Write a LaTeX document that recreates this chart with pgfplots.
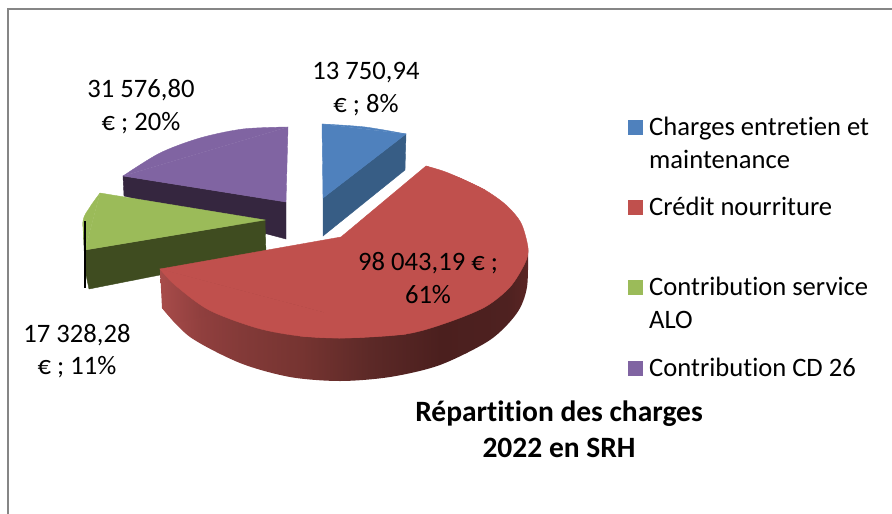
\documentclass[border=0pt]{standalone}
\usepackage{fontspec}
\setmainfont[Ligatures=NoCommon]{Carlito}
\usepackage{pgfplots}
\pgfplotsset{compat=1.18}
\definecolor{cblue}{HTML}{4F81BD}
\definecolor{cred}{HTML}{C0504D}
\definecolor{cgreen}{HTML}{9BBB59}
\definecolor{cpurple}{HTML}{8064A2}
\definecolor{dblue}{HTML}{375D85}
\definecolor{dgreen}{HTML}{3F4C20}
\definecolor{dpurple}{HTML}{35263F}
\definecolor{framegray}{HTML}{868686}
\definecolor{ra}{HTML}{A84C4A}
\definecolor{rb}{HTML}{903F3E}
\definecolor{rc}{HTML}{833A38}
\definecolor{rd}{HTML}{763431}
\definecolor{re}{HTML}{5C2927}
\definecolor{rf}{HTML}{4B1F1E}
\definecolor{rg}{HTML}{4E2120}
\definecolor{rh}{HTML}{5A2524}
% red side wall, left to right (25bp..75bp is the width of the path)
\pgfdeclarehorizontalshading{redside}{100bp}{
  color(0bp)=(ra); color(25bp)=(ra);
  color(30.4bp)=(rb); color(35.9bp)=(rc);
  color(44bp)=(rd); color(53.5bp)=(re);
  color(63bp)=(rf); color(72bp)=(rg);
  color(75bp)=(rh); color(100bp)=(rh)}
\newcommand{\lab}[3]{\node[anchor=base,inner sep=0pt] at (axis cs:#1,#2) {#3};}
\newcommand{\leg}[2]{\node[anchor=base west,inner sep=0pt] at (axis cs:649,#1) {#2};}
\begin{document}
\begin{tikzpicture}
\useasboundingbox (0,0) rectangle (892pt,514pt);
\begin{axis}[
  at={(0,0)}, anchor=south west,
  scale only axis, width=892pt, height=514pt,
  xmin=0, xmax=892, ymin=0, ymax=514, y dir=reverse,
  hide axis, clip=false,
  nodes={font=\fontsize{26.6}{30}\selectfont},
  piece/.style={fill=#1,draw=#1,line width=0.4pt}
]
% frame
\addplot[draw=framegray,line width=2pt] coordinates {(8,514)(8,8.5)(892,8.5)};
% purple slice
\addplot[piece=dpurple] coordinates {(123,176)(124,196)(286,239)(286,202)} --cycle;
\addplot[piece=cpurple,smooth] coordinates {(288,127)(243,129)(200,138)(160,153)(123,176)};
\addplot[piece=cpurple] coordinates {(288,127)(286,202)(123,176)} --cycle;
% green slice
\addplot[piece=dgreen] coordinates {(83,222)(85,250)(265,220)(266,254)(89,289)(85,270)} --cycle;
\addplot[piece=cgreen,smooth] coordinates {(100,193)(90,207)(83,221)(85,250)};
\addplot[piece=cgreen] coordinates {(100,193)(265,220)(85,250)} --cycle;
% blue slice
\addplot[piece=dblue] coordinates {(406,134)(405,170)(323,236)(323,198)} --cycle;
\addplot[piece=cblue,smooth] coordinates {(322,124)(365,127)(406,134)};
\addplot[piece=cblue] coordinates {(322,124)(406,134)(323,198)} --cycle;
% red slice, side wall then top (arc pieces overlap to hide their ends)
\addplot[shading=redside,draw=none,smooth] coordinates {(162,308)(190,337)(240,363)(290,377)(340,381)(390,377)(440,365)(490,340)(517,313)(527,287)(528,248)};
\addplot[shading=redside,draw=none] coordinates {(160,269)(162,308)(175,323)(528,248)} --cycle;
\addplot[piece=cred,smooth] coordinates {(160,269)(175,285)(209,310)(257,328)(300,336)(345,338)(406,334)};
\addplot[piece=cred,smooth] coordinates {(300,336)(345,338)(406,334)(446,323)(485,307)(510,287)(525,263)(528,248)(521,223)(506,205)(485,190)(460,178)};
\addplot[piece=cred,smooth] coordinates {(485,190)(460,178)(443,171)(426,166)};
\addplot[piece=cred] coordinates {(160,269)(406,334)(460,178)(426,166)(341,237)} --cycle;
% leader line
\addplot[draw=black,line width=2pt] coordinates {(84.5,221)(84.5,288)};
% legend keys
\addplot[fill=cblue,draw=none] coordinates {(628,120)(643,120)(643,135)(628,135)} --cycle;
\addplot[fill=cred,draw=none] coordinates {(628,200)(643,200)(643,215)(628,215)} --cycle;
\addplot[fill=cgreen,draw=none] coordinates {(628,280)(643,280)(643,295)(628,295)} --cycle;
\addplot[fill=cpurple,draw=none] coordinates {(628,361)(643,361)(643,376)(628,376)} --cycle;
% legend text
\leg{135}{Charges entretien et}
\leg{168}{maintenance}
\leg{215}{Crédit nourriture}
\leg{295}{Contribution service}
\leg{328}{ALO}
\leg{376}{Contribution CD 26}
% data labels
\lab{366}{79}{13 750,94}
\lab{366}{112}{€ ; 8\%}
\lab{141}{97}{31 576,80}
\lab{141}{130}{€ ; 20\%}
\lab{428}{270}{98 043,19 € ;}
\lab{428}{303}{61\%}
\lab{77}{342}{17 328,28}
\lab{77}{374}{€ ; 11\%}
% title
\lab{559}{421}{\fontsize{29.5}{30}\selectfont\bfseries Répartition des charges}
\lab{559}{457}{\fontsize{29.5}{30}\selectfont\bfseries 2022 en SRH}
\end{axis}
\end{tikzpicture}
\end{document}
